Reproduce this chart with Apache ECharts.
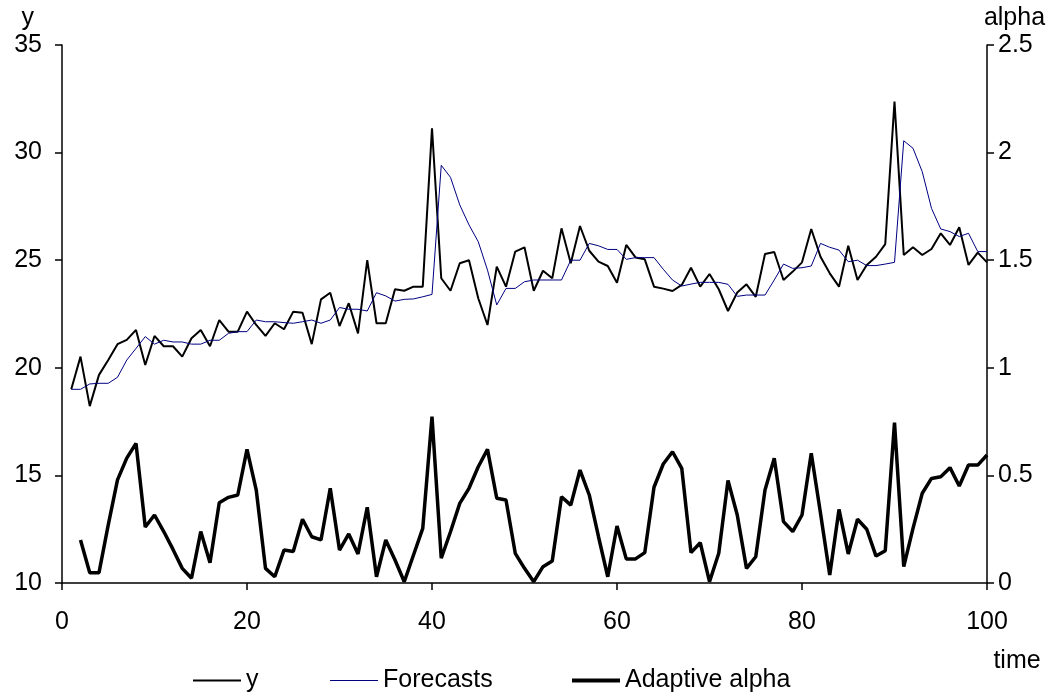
<!DOCTYPE html>
<html>
<head>
<meta charset="utf-8">
<script src="https://cdn.jsdelivr.net/npm/echarts@6/dist/echarts.min.js"></script>
<style>
html,body{margin:0;padding:0;background:#fff;}
#chart{width:1050px;height:694px;}
</style>
</head>
<body>
<div id="chart"></div>
<script>
// time index starts at 1 for y and forecasts, at 2 for adaptive alpha
const yValues = [
19.0,20.52,18.22,19.67,20.36,21.1,21.3,21.76,20.13,21.48,
21.0,21.0,20.52,21.37,21.76,21.0,22.22,21.68,21.68,22.61,
21.99,21.48,22.07,21.79,22.61,22.56,21.1,23.18,23.49,21.94,
23.0,21.6,25.0,22.07,22.07,23.65,23.58,23.77,23.77,31.13,
24.16,23.58,24.86,25.0,23.23,21.99,24.7,23.77,25.4,25.6,
23.58,24.51,24.16,26.48,24.86,26.59,25.44,24.93,24.73,23.95,
25.71,25.13,25.04,23.77,23.68,23.57,23.85,24.65,23.77,24.36,
23.65,22.64,23.5,23.88,23.3,25.29,25.38,24.08,24.47,24.9,
26.45,25.16,24.39,23.77,25.67,24.08,24.78,25.16,25.75,32.37,
25.24,25.6,25.24,25.52,26.25,25.71,26.53,24.78,25.35,24.9
];
const forecastValues = [
19.0,19.0,19.25,19.28,19.28,19.56,20.36,20.9,21.45,21.1,
21.28,21.2,21.2,21.1,21.1,21.28,21.28,21.6,21.68,21.68,
22.22,22.14,22.14,22.1,22.07,22.14,22.22,22.07,22.22,22.8,
22.72,22.72,22.64,23.49,23.34,23.1,23.18,23.2,23.3,23.41,
29.41,28.85,27.57,26.64,25.86,24.54,22.92,23.69,23.69,24.0,
24.08,24.08,24.08,24.08,25.0,25.0,25.78,25.67,25.5,25.5,
25.04,25.12,25.12,25.12,24.58,24.08,23.8,23.89,23.97,23.97,
23.97,23.88,23.32,23.38,23.38,23.38,24.08,24.82,24.62,24.65,
24.73,25.78,25.6,25.47,24.93,25.0,24.75,24.75,24.82,24.9,
30.55,30.2,29.11,27.41,26.45,26.33,26.1,26.25,25.4,25.4
];
const alphaValues = [
0.2,0.048,0.048,0.27,0.479,0.58,0.649,0.26,0.316,
0.239,0.156,0.068,0.022,0.239,0.094,0.373,0.398,0.409,0.621,
0.432,0.068,0.029,0.153,0.146,0.296,0.215,0.2,0.44,0.153,
0.228,0.135,0.352,0.029,0.2,0.107,0.006,0.13,0.254,0.773,
0.115,0.238,0.37,0.44,0.54,0.621,0.394,0.386,0.138,0.068,
0.006,0.076,0.102,0.401,0.362,0.525,0.409,0.215,0.029,0.265,
0.112,0.112,0.141,0.445,0.553,0.61,0.533,0.141,0.187,0.006,
0.138,0.477,0.316,0.068,0.122,0.432,0.58,0.285,0.239,0.316,
0.603,0.324,0.037,0.342,0.135,0.296,0.25,0.125,0.15,0.745,
0.076,0.254,0.417,0.486,0.494,0.536,0.451,0.548,0.548,0.595
];
const yStart = 1;
const alphaStart = 2;
const xTicks = {min: 0, max: 100, interval: 20};
const leftTicks = {min: 10, max: 35, interval: 5};
const rightTicks = {min: 0, max: 2.5, interval: 0.5};
const seriesNames = ['y', 'Forecasts', 'Adaptive alpha'];

const FONT = 'Liberation Sans, Arial, sans-serif';
const FS = 25;
const pairs = (arr, start) => arr.map((v, i) => [start + i, v]);

const chart = echarts.init(document.getElementById('chart'), null, {renderer: 'canvas'});
const axisCommon = {
  axisLine: {show: true, lineStyle: {color: '#000', width: 1.5}},
  axisTick: {show: true, inside: false, length: 7, lineStyle: {color: '#000', width: 1.5}},
  splitLine: {show: false},
  axisLabel: {color: '#000', fontFamily: FONT, fontSize: FS},
  nameTextStyle: {color: '#000', fontFamily: FONT, fontSize: FS}
};
const legendCommon = {
  orient: 'horizontal', top: 663, itemWidth: 48, itemGap: 0, icon: 'rect',
  textStyle: {color: '#000', fontFamily: FONT, fontSize: FS}
};
chart.setOption({
  animation: false,
  backgroundColor: '#fff',
  grid: {left: 62, right: 63, top: 45, bottom: 111, containLabel: false, outerBoundsMode: 'none'},
  xAxis: Object.assign({}, axisCommon, {
    type: 'value', min: xTicks.min, max: xTicks.max, interval: xTicks.interval,
    name: 'time', nameLocation: 'end', nameGap: 0,
    nameTextStyle: {color: '#000', fontFamily: FONT, fontSize: FS, align: 'center', verticalAlign: 'top', padding: [66, 0, 0, 60]},
    axisLabel: {color: '#000', fontFamily: FONT, fontSize: FS, margin: 27}
  }),
  yAxis: [
    Object.assign({}, axisCommon, {
      type: 'value', position: 'left', min: leftTicks.min, max: leftTicks.max, interval: leftTicks.interval,
      name: 'y', nameLocation: 'end', nameGap: 14,
      nameTextStyle: {color: '#000', fontFamily: FONT, fontSize: FS, align: 'right', padding: [0, 28, 0, 0]},
      axisLabel: {color: '#000', fontFamily: FONT, fontSize: FS, margin: 20}
    }),
    Object.assign({}, axisCommon, {
      type: 'value', position: 'right', min: rightTicks.min, max: rightTicks.max, interval: rightTicks.interval,
      name: 'alpha', nameLocation: 'end', nameGap: 14,
      nameTextStyle: {color: '#000', fontFamily: FONT, fontSize: FS, align: 'center', padding: [0, 0, 0, 55]},
      axisLabel: {color: '#000', fontFamily: FONT, fontSize: FS, margin: 11}
    })
  ],
  legend: [
    Object.assign({}, legendCommon, {left: 188, itemHeight: 2, data: [seriesNames[0]]}),
    Object.assign({}, legendCommon, {left: 325, itemHeight: 1, data: [seriesNames[1]]}),
    Object.assign({}, legendCommon, {left: 567, itemHeight: 4, data: [seriesNames[2]]})
  ],
  series: [
    {name: seriesNames[0], type: 'line', yAxisIndex: 0, data: pairs(yValues, yStart),
     symbol: 'none', showSymbol: false, lineStyle: {color: '#000', width: 2}, itemStyle: {color: '#000'}, z: 3},
    {name: seriesNames[1], type: 'line', yAxisIndex: 0, data: pairs(forecastValues, yStart),
     symbol: 'none', showSymbol: false, lineStyle: {color: '#000080', width: 1}, itemStyle: {color: '#000080'}, z: 4},
    {name: seriesNames[2], type: 'line', yAxisIndex: 1, data: pairs(alphaValues, alphaStart),
     symbol: 'none', showSymbol: false, lineStyle: {color: '#000', width: 3.5}, itemStyle: {color: '#000'}, z: 5}
  ]
});
</script>
</body>
</html>
